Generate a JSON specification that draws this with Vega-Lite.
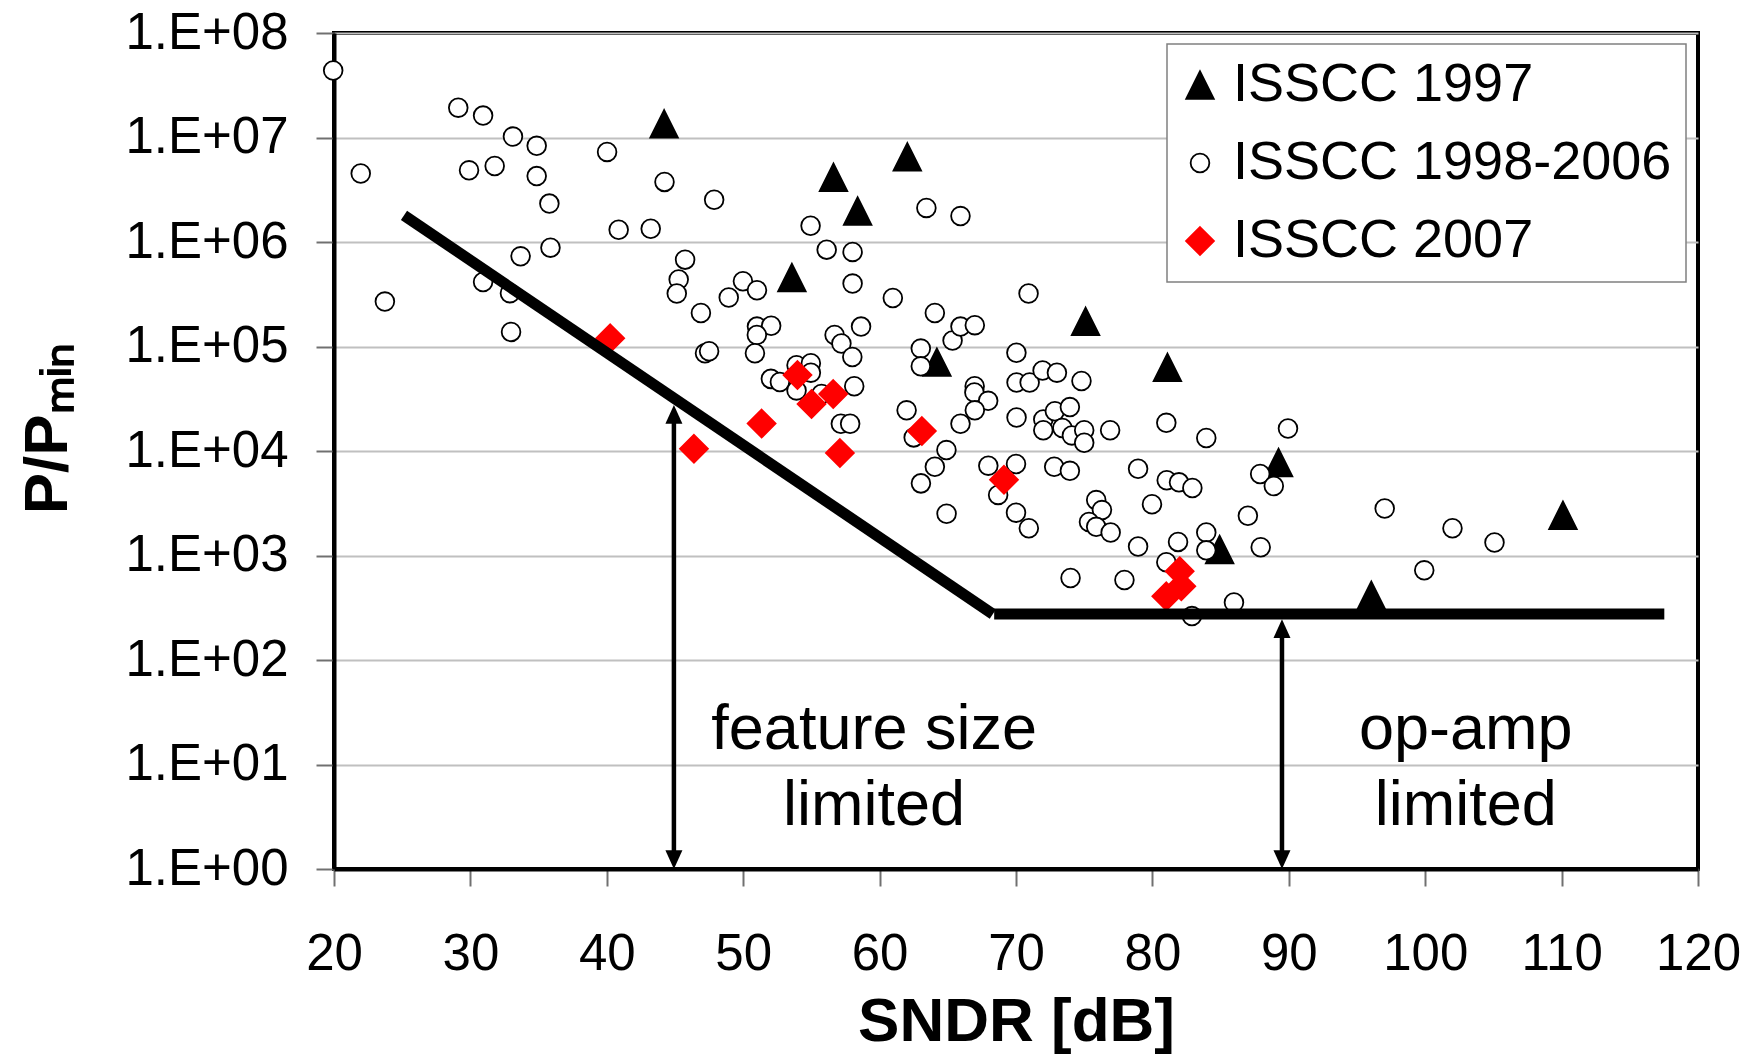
{
  "$schema": "https://vega.github.io/schema/vega-lite/v6.json",
  "width": 1364,
  "height": 836,
  "autosize": {"type": "none"},
  "padding": {"left": 334, "top": 33, "right": 66, "bottom": 193},
  "background": "white",
  "config": {
    "view": {"stroke": "black", "strokeWidth": 4},
    "legend": {"strokeWidth": 1.5}
  },
  "datasets": {
    "points": [
      {"series": "ISSCC 1997", "x": 44.2, "y": 13500000},
      {"series": "ISSCC 1997", "x": 56.62, "y": 4170000},
      {"series": "ISSCC 1997", "x": 58.39, "y": 1980000},
      {"series": "ISSCC 1997", "x": 62.03, "y": 6520000},
      {"series": "ISSCC 1997", "x": 53.57, "y": 457000},
      {"series": "ISSCC 1997", "x": 64.2, "y": 70800},
      {"series": "ISSCC 1997", "x": 75.1, "y": 174000},
      {"series": "ISSCC 1997", "x": 81.1, "y": 63100},
      {"series": "ISSCC 1997", "x": 89.25, "y": 7760},
      {"series": "ISSCC 1997", "x": 84.93, "y": 1140},
      {"series": "ISSCC 1997", "x": 96.05, "y": 417},
      {"series": "ISSCC 1997", "x": 110.1, "y": 2430},
      {"series": "ISSCC 1998-2006", "x": 19.94, "y": 43700000},
      {"series": "ISSCC 1998-2006", "x": 21.96, "y": 4520000},
      {"series": "ISSCC 1998-2006", "x": 23.73, "y": 269000},
      {"series": "ISSCC 1998-2006", "x": 29.11, "y": 19300000},
      {"series": "ISSCC 1998-2006", "x": 30.93, "y": 16200000},
      {"series": "ISSCC 1998-2006", "x": 33.12, "y": 10200000},
      {"series": "ISSCC 1998-2006", "x": 34.86, "y": 8320000},
      {"series": "ISSCC 1998-2006", "x": 29.9, "y": 4850000},
      {"series": "ISSCC 1998-2006", "x": 31.78, "y": 5330000},
      {"series": "ISSCC 1998-2006", "x": 34.86, "y": 4270000},
      {"series": "ISSCC 1998-2006", "x": 35.79, "y": 2330000},
      {"series": "ISSCC 1998-2006", "x": 35.87, "y": 883000},
      {"series": "ISSCC 1998-2006", "x": 33.68, "y": 729000},
      {"series": "ISSCC 1998-2006", "x": 30.93, "y": 414000},
      {"series": "ISSCC 1998-2006", "x": 32.9, "y": 324000},
      {"series": "ISSCC 1998-2006", "x": 32.98, "y": 138000},
      {"series": "ISSCC 1998-2006", "x": 40.02, "y": 7280000},
      {"series": "ISSCC 1998-2006", "x": 44.23, "y": 3760000},
      {"series": "ISSCC 1998-2006", "x": 47.87, "y": 2540000},
      {"series": "ISSCC 1998-2006", "x": 40.87, "y": 1310000},
      {"series": "ISSCC 1998-2006", "x": 43.22, "y": 1340000},
      {"series": "ISSCC 1998-2006", "x": 54.94, "y": 1430000},
      {"series": "ISSCC 1998-2006", "x": 56.12, "y": 845000},
      {"series": "ISSCC 1998-2006", "x": 58.02, "y": 804000},
      {"series": "ISSCC 1998-2006", "x": 63.43, "y": 2120000},
      {"series": "ISSCC 1998-2006", "x": 65.93, "y": 1770000},
      {"series": "ISSCC 1998-2006", "x": 45.74, "y": 678000},
      {"series": "ISSCC 1998-2006", "x": 45.27, "y": 437000},
      {"series": "ISSCC 1998-2006", "x": 45.13, "y": 321000},
      {"series": "ISSCC 1998-2006", "x": 46.9, "y": 209000},
      {"series": "ISSCC 1998-2006", "x": 48.94, "y": 294000},
      {"series": "ISSCC 1998-2006", "x": 49.98, "y": 421000},
      {"series": "ISSCC 1998-2006", "x": 51.01, "y": 345000},
      {"series": "ISSCC 1998-2006", "x": 58.02, "y": 400000},
      {"series": "ISSCC 1998-2006", "x": 60.97, "y": 291000},
      {"series": "ISSCC 1998-2006", "x": 70.92, "y": 321000},
      {"series": "ISSCC 1998-2006", "x": 64.05, "y": 209000},
      {"series": "ISSCC 1998-2006", "x": 51.01, "y": 155000},
      {"series": "ISSCC 1998-2006", "x": 52.05, "y": 158000},
      {"series": "ISSCC 1998-2006", "x": 51.0, "y": 129000},
      {"series": "ISSCC 1998-2006", "x": 47.2, "y": 86100},
      {"series": "ISSCC 1998-2006", "x": 47.5, "y": 90200},
      {"series": "ISSCC 1998-2006", "x": 50.86, "y": 86100},
      {"series": "ISSCC 1998-2006", "x": 56.7, "y": 129000},
      {"series": "ISSCC 1998-2006", "x": 57.2, "y": 107000},
      {"series": "ISSCC 1998-2006", "x": 58.64, "y": 155000},
      {"series": "ISSCC 1998-2006", "x": 58.0, "y": 79400},
      {"series": "ISSCC 1998-2006", "x": 65.35, "y": 114000},
      {"series": "ISSCC 1998-2006", "x": 65.93, "y": 155000},
      {"series": "ISSCC 1998-2006", "x": 66.98, "y": 160000},
      {"series": "ISSCC 1998-2006", "x": 63.02, "y": 95500},
      {"series": "ISSCC 1998-2006", "x": 63.02, "y": 64600},
      {"series": "ISSCC 1998-2006", "x": 70.03, "y": 87100},
      {"series": "ISSCC 1998-2006", "x": 53.91, "y": 66100},
      {"series": "ISSCC 1998-2006", "x": 54.96, "y": 69200},
      {"series": "ISSCC 1998-2006", "x": 54.96, "y": 56200},
      {"series": "ISSCC 1998-2006", "x": 52.03, "y": 49000},
      {"series": "ISSCC 1998-2006", "x": 52.69, "y": 45700},
      {"series": "ISSCC 1998-2006", "x": 53.91, "y": 38000},
      {"series": "ISSCC 1998-2006", "x": 55.74, "y": 35100},
      {"series": "ISSCC 1998-2006", "x": 58.14, "y": 41700},
      {"series": "ISSCC 1998-2006", "x": 57.16, "y": 18200},
      {"series": "ISSCC 1998-2006", "x": 57.84, "y": 18200},
      {"series": "ISSCC 1998-2006", "x": 70.04, "y": 45200},
      {"series": "ISSCC 1998-2006", "x": 71.0, "y": 45200},
      {"series": "ISSCC 1998-2006", "x": 71.95, "y": 58900},
      {"series": "ISSCC 1998-2006", "x": 73.0, "y": 56200},
      {"series": "ISSCC 1998-2006", "x": 74.8, "y": 46800},
      {"series": "ISSCC 1998-2006", "x": 66.97, "y": 41700},
      {"series": "ISSCC 1998-2006", "x": 66.95, "y": 36300},
      {"series": "ISSCC 1998-2006", "x": 67.96, "y": 30200},
      {"series": "ISSCC 1998-2006", "x": 66.98, "y": 24500},
      {"series": "ISSCC 1998-2006", "x": 65.93, "y": 18200},
      {"series": "ISSCC 1998-2006", "x": 61.98, "y": 24500},
      {"series": "ISSCC 1998-2006", "x": 62.5, "y": 13500},
      {"series": "ISSCC 1998-2006", "x": 64.9, "y": 10200},
      {"series": "ISSCC 1998-2006", "x": 64.05, "y": 7080},
      {"series": "ISSCC 1998-2006", "x": 67.97, "y": 7240},
      {"series": "ISSCC 1998-2006", "x": 70.04, "y": 20900},
      {"series": "ISSCC 1998-2006", "x": 70.0, "y": 7500},
      {"series": "ISSCC 1998-2006", "x": 72.0, "y": 20000},
      {"series": "ISSCC 1998-2006", "x": 72.85, "y": 24000},
      {"series": "ISSCC 1998-2006", "x": 73.95, "y": 26300},
      {"series": "ISSCC 1998-2006", "x": 72.0, "y": 15800},
      {"series": "ISSCC 1998-2006", "x": 73.4, "y": 16600},
      {"series": "ISSCC 1998-2006", "x": 74.1, "y": 14100},
      {"series": "ISSCC 1998-2006", "x": 75.0, "y": 15800},
      {"series": "ISSCC 1998-2006", "x": 75.0, "y": 12000},
      {"series": "ISSCC 1998-2006", "x": 76.9, "y": 15800},
      {"series": "ISSCC 1998-2006", "x": 72.8, "y": 7080},
      {"series": "ISSCC 1998-2006", "x": 73.95, "y": 6460},
      {"series": "ISSCC 1998-2006", "x": 81.02, "y": 18600},
      {"series": "ISSCC 1998-2006", "x": 83.95, "y": 13300},
      {"series": "ISSCC 1998-2006", "x": 78.95, "y": 6760},
      {"series": "ISSCC 1998-2006", "x": 87.9, "y": 6030},
      {"series": "ISSCC 1998-2006", "x": 63.03, "y": 4900},
      {"series": "ISSCC 1998-2006", "x": 64.91, "y": 2510},
      {"series": "ISSCC 1998-2006", "x": 68.69, "y": 3800},
      {"series": "ISSCC 1998-2006", "x": 70.0, "y": 2570},
      {"series": "ISSCC 1998-2006", "x": 70.94, "y": 1820},
      {"series": "ISSCC 1998-2006", "x": 74.0, "y": 610},
      {"series": "ISSCC 1998-2006", "x": 81.05, "y": 5250},
      {"series": "ISSCC 1998-2006", "x": 81.95, "y": 5010},
      {"series": "ISSCC 1998-2006", "x": 82.93, "y": 4420},
      {"series": "ISSCC 1998-2006", "x": 88.9, "y": 4620},
      {"series": "ISSCC 1998-2006", "x": 75.88, "y": 3390},
      {"series": "ISSCC 1998-2006", "x": 76.3, "y": 2720},
      {"series": "ISSCC 1998-2006", "x": 75.35, "y": 2090},
      {"series": "ISSCC 1998-2006", "x": 75.88, "y": 1880},
      {"series": "ISSCC 1998-2006", "x": 76.94, "y": 1660},
      {"series": "ISSCC 1998-2006", "x": 79.97, "y": 3090},
      {"series": "ISSCC 1998-2006", "x": 87.0, "y": 2400},
      {"series": "ISSCC 1998-2006", "x": 78.95, "y": 1220},
      {"series": "ISSCC 1998-2006", "x": 81.88, "y": 1350},
      {"series": "ISSCC 1998-2006", "x": 83.95, "y": 1660},
      {"series": "ISSCC 1998-2006", "x": 83.95, "y": 1120},
      {"series": "ISSCC 1998-2006", "x": 87.94, "y": 1200},
      {"series": "ISSCC 1998-2006", "x": 81.02, "y": 861},
      {"series": "ISSCC 1998-2006", "x": 77.95, "y": 582},
      {"series": "ISSCC 1998-2006", "x": 85.98, "y": 355},
      {"series": "ISSCC 1998-2006", "x": 82.9, "y": 263},
      {"series": "ISSCC 1998-2006", "x": 89.94, "y": 16400},
      {"series": "ISSCC 1998-2006", "x": 97.03, "y": 2820},
      {"series": "ISSCC 1998-2006", "x": 102.0, "y": 1820},
      {"series": "ISSCC 1998-2006", "x": 105.08, "y": 1330},
      {"series": "ISSCC 1998-2006", "x": 99.93, "y": 721},
      {"series": "ISSCC 2007", "x": 40.25, "y": 120000},
      {"series": "ISSCC 2007", "x": 46.39, "y": 10500},
      {"series": "ISSCC 2007", "x": 51.35, "y": 18300},
      {"series": "ISSCC 2007", "x": 53.98, "y": 53300},
      {"series": "ISSCC 2007", "x": 55.01, "y": 28200},
      {"series": "ISSCC 2007", "x": 56.6, "y": 35100},
      {"series": "ISSCC 2007", "x": 57.09, "y": 9550},
      {"series": "ISSCC 2007", "x": 63.1, "y": 15500},
      {"series": "ISSCC 2007", "x": 69.12, "y": 5310},
      {"series": "ISSCC 2007", "x": 81.02, "y": 407},
      {"series": "ISSCC 2007", "x": 82.0, "y": 708},
      {"series": "ISSCC 2007", "x": 82.12, "y": 508}
    ],
    "lines": [
      {"seg": "slope", "x": 25.13, "y": 1800000},
      {"seg": "slope", "x": 68.3, "y": 275},
      {"seg": "flat", "x": 68.4, "y": 275},
      {"seg": "flat", "x": 117.53, "y": 275}
    ],
    "shafts": [
      {"arrow": "feature", "x": 44.92, "y": 1.32},
      {"arrow": "feature", "x": 44.92, "y": 20900},
      {"arrow": "opamp", "x": 89.5, "y": 1.32},
      {"arrow": "opamp", "x": 89.5, "y": 186}
    ],
    "headsUp": [
      {"x": 44.92, "y": 27500},
      {"x": 89.5, "y": 245}
    ],
    "headsDown": [
      {"x": 44.92, "y": 1},
      {"x": 89.5, "y": 1}
    ],
    "notes": [
      {"x": 59.6, "y": 14.16, "label": "feature size\nlimited"},
      {"x": 102.97, "y": 14.16, "label": "op-amp\nlimited"}
    ]
  },
  "encoding": {
    "x": {
      "field": "x",
      "type": "quantitative",
      "scale": {"domain": [20, 120], "nice": false, "zero": false},
      "axis": {
        "values": [20, 30, 40, 50, 60, 70, 80, 90, 100, 110, 120],
        "title": "SNDR [dB]",
        "titleFont": "Liberation Sans",
        "titleFontSize": 62,
        "titleFontWeight": "bold",
        "titleColor": "black",
        "titleBaseline": "alphabetic",
        "titleY": 171,
        "labelFont": "Liberation Sans",
        "labelFontSize": 51,
        "labelColor": "black",
        "labelPadding": 43,
        "labelFlush": false,
        "labelOverlap": false,
        "tickSize": 17,
        "tickColor": "#707070",
        "tickWidth": 2,
        "domainColor": "black",
        "domainWidth": 4,
        "grid": false
      }
    },
    "y": {
      "field": "y",
      "type": "quantitative",
      "scale": {"type": "log", "domain": [1, 100000000], "nice": false},
      "axis": {
        "values": [1, 10, 100, 1000, 10000, 100000, 1000000, 10000000, 100000000],
        "labelExpr": "'1.E+0' + round(log(datum.value) / LN10)",
        "title": "P/Pₘᵢₙ",
        "titleFont": "Liberation Sans",
        "titleFontSize": 62,
        "titleFontWeight": "bold",
        "titleColor": "black",
        "titleAngle": 270,
        "titleAlign": "center",
        "titleBaseline": "alphabetic",
        "titleX": -268,
        "titleY": 395,
        "labelFont": "Liberation Sans",
        "labelFontSize": 51,
        "labelColor": "black",
        "labelPadding": 28,
        "labelFlush": false,
        "labelOverlap": false,
        "tickSize": 18,
        "tickColor": "#707070",
        "tickWidth": 2,
        "domainColor": "black",
        "domainWidth": 4,
        "grid": true,
        "gridColor": "#c0c0c0",
        "gridWidth": 2
      }
    }
  },
  "layer": [
    {
      "data": {"name": "points"},
      "mark": {"type": "point", "filled": true, "opacity": 1, "strokeWidth": 1.8},
      "encoding": {
        "shape": {
          "field": "series",
          "type": "nominal",
          "scale": {
            "domain": ["ISSCC 1997", "ISSCC 1998-2006", "ISSCC 2007"],
            "range": ["M0,-1L-1,1L1,1Z", "circle", "M0,-1L1,0L0,1L-1,0Z"]
          },
          "legend": {
            "orient": "none",
            "legendX": 833,
            "legendY": 11,
            "title": null,
            "labelFont": "Liberation Sans",
            "labelFontSize": 54,
            "labelColor": "black",
            "labelLimit": 1000,
            "labelOffset": 6,
            "strokeColor": "#808080",
            "fillColor": "white",
            "padding": 14,
            "symbolOffset": -8,
            "rowPadding": 24,
            "symbolStrokeWidth": 1.8
          }
        },
        "fill": {
          "field": "series",
          "type": "nominal",
          "scale": {
            "domain": ["ISSCC 1997", "ISSCC 1998-2006", "ISSCC 2007"],
            "range": ["black", "white", "red"]
          }
        },
        "stroke": {
          "field": "series",
          "type": "nominal",
          "scale": {
            "domain": ["ISSCC 1997", "ISSCC 1998-2006", "ISSCC 2007"],
            "range": ["black", "black", "red"]
          }
        },
        "size": {
          "field": "series",
          "type": "nominal",
          "scale": {
            "type": "ordinal",
            "domain": ["ISSCC 1997", "ISSCC 1998-2006", "ISSCC 2007"],
            "range": [760, 350, 780]
          }
        }
      }
    },
    {
      "data": {"name": "lines"},
      "mark": {"type": "line", "color": "black", "strokeWidth": 11, "strokeCap": "butt"},
      "encoding": {"detail": {"field": "seg", "type": "nominal"}}
    },
    {
      "data": {"name": "shafts"},
      "mark": {"type": "line", "color": "black", "strokeWidth": 4.5, "strokeCap": "butt"},
      "encoding": {"detail": {"field": "arrow", "type": "nominal"}}
    },
    {
      "data": {"name": "headsUp"},
      "mark": {"type": "point", "shape": "M0,0L-1,2.2L1,2.2Z", "filled": true, "color": "black", "opacity": 1, "strokeWidth": 0, "size": 289},
      "encoding": {}
    },
    {
      "data": {"name": "headsDown"},
      "mark": {"type": "point", "shape": "M0,0L-1,-2.2L1,-2.2Z", "filled": true, "color": "black", "opacity": 1, "strokeWidth": 0, "size": 289},
      "encoding": {}
    },
    {
      "data": {"name": "notes"},
      "mark": {"type": "text", "font": "Liberation Sans", "fontSize": 63, "align": "center", "baseline": "alphabetic", "lineBreak": "\n", "lineHeight": 76, "color": "black"},
      "encoding": {"text": {"field": "label", "type": "nominal"}}
    }
  ]
}
